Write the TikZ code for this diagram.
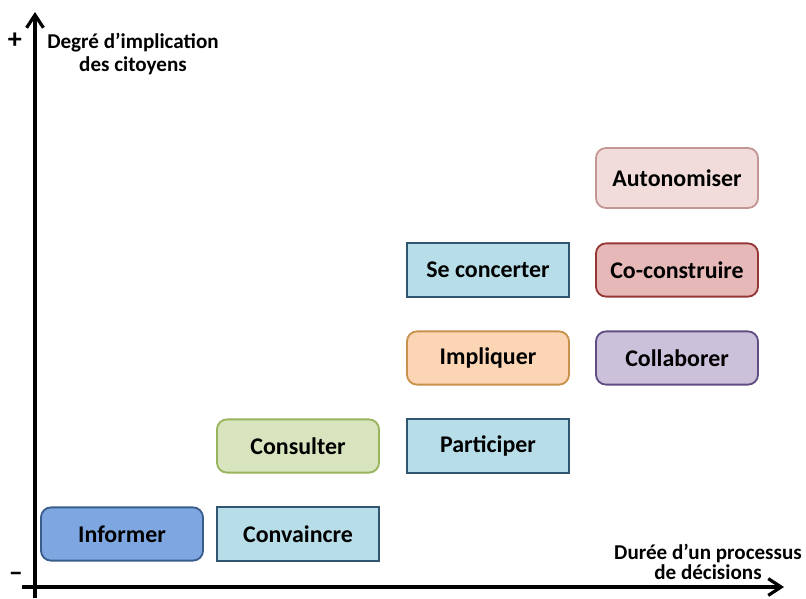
\documentclass[tikz,border=0pt]{standalone}
\usepackage{fontspec}
\setmainfont{Carlito}
\usetikzlibrary{arrows.meta, positioning}
\definecolor{infoblue}{RGB}{126, 166, 224}
\definecolor{infoline}{RGB}{56, 93, 138}
\definecolor{paleblue}{RGB}{183, 221, 232}
\definecolor{paleline}{RGB}{49, 86, 111}
\definecolor{consgreen}{RGB}{215, 228, 189}
\definecolor{consline}{RGB}{152, 180, 90}
\definecolor{implorange}{RGB}{252, 213, 181}
\definecolor{implline}{RGB}{200, 145, 75}
\definecolor{collpurple}{RGB}{204, 193, 218}
\definecolor{collline}{RGB}{96, 78, 130}
\definecolor{coconsred}{RGB}{230, 185, 184}
\definecolor{coconsline}{RGB}{149, 55, 53}
\definecolor{autopink}{RGB}{242, 220, 219}
\definecolor{autoline}{RGB}{195, 150, 150}

\begin{document}
\begin{tikzpicture}[
        x=0.025cm, y=-0.025cm,
        level/.style={rectangle, draw, line width=1.3pt, minimum width=4.05cm, minimum height=1.33cm, align=center, font=\fontsize{17}{19}\selectfont\bfseries},
        roundlevel/.style={level, rounded corners=0.25cm},
        axis/.style={line width=2.3pt, -{Straight Barb[length=3.2mm, width=4.2mm, line width=2.3pt]}},
        axislabel/.style={align=center, font=\fontsize{15}{16.5}\selectfont\bfseries}
    ]
        \useasboundingbox (0,0) rectangle (806,598);

        % Axes
        \coordinate (ybottom) at (35,598);
        \coordinate (ytop) at (35,12);
        \coordinate (xleft) at (22,587);
        \coordinate (xright) at (784,587);
        \draw[axis] (ybottom) -- (ytop);
        \draw[axis] (xleft) -- (xright);

        % Axis labels
        \node[axislabel, font=\fontsize{20}{20}\selectfont\bfseries] (plus) at (15,41) {+};
        \node[axislabel, font=\fontsize{20}{20}\selectfont\bfseries] (minus) at (16,577) {--};
        \node[axislabel] (ylabel) at (133,54) {Degré d’implication\\des citoyens};
        \node[axislabel, font=\fontsize{15}{14}\selectfont\bfseries] (xlabel) at (708,562) {Durée d’un processus\\de décisions};

        % Column 1
        \node[roundlevel, fill=infoblue, draw=infoline] (informer) at (122,534) {Informer};

        % Column 2
        \node[level, fill=paleblue, draw=paleline] (convaincre) at (298,534) {Convaincre};
        \node[roundlevel, fill=consgreen, draw=consline] (consulter) at (298,446) {Consulter};

        % Column 3
        \node[level, fill=paleblue, draw=paleline] (participer) at (488,446) {Participer};
        \node[roundlevel, fill=implorange, draw=implline] (impliquer) at (488,358) {Impliquer};
        \node[level, fill=paleblue, draw=paleline] (concerter) at (488,270) {Se concerter};

        % Column 4
        \node[roundlevel, fill=collpurple, draw=collline] (collaborer) at (677,358) {Collaborer};
        \node[roundlevel, fill=coconsred, draw=coconsline] (coconstruire) at (677,270) {Co-construire};
        \node[roundlevel, fill=autopink, draw=autoline, minimum height=1.5cm] (autonomiser) at (677,178) {Autonomiser};
    \end{tikzpicture}
\end{document}
